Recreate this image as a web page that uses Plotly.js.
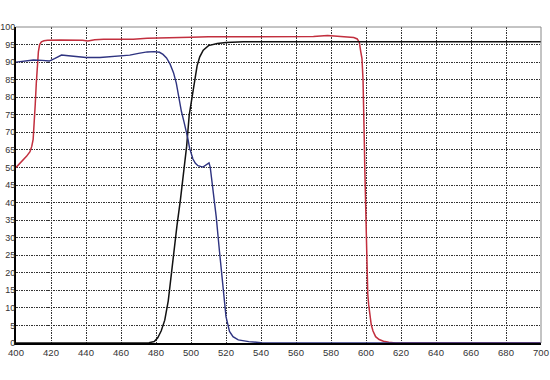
<!DOCTYPE html>
<html><head><meta charset="utf-8">
<script src="https://cdn.plot.ly/plotly-3.0.1.min.js"></script>
<style>html,body{margin:0;padding:0;background:#fff;}#chart{width:550px;height:380px;}</style>
</head><body><div id="chart"></div>
<script>
// X tick values (nm)
const xTicks = [400,420,440,460,480,500,520,540,560,580,600,620,640,660,680,700];
// Y tick labels as printed on the original axis (note: 55 and 60 are absent, grid is uniform)
const yTickLabels = [0,5,10,15,20,25,30,35,40,45,50,65,70,75,80,85,90,95,100];

// Red curve (transmittance %, read against the printed labels)
const redX = [400,402,404,406,408,409,409.8,410.4,411,411.6,412.2,412.8,413.5,414.5,416,418,425,432,438,441,445,450,460,467,475,480,490,500,510,520,530,540,550,560,570,578,585,590,593,595,596.2,597,597.7,598.3,598.7,598.9,599.1,599.3,599.6,600,600.6,601,601.5,602,603,604,605.5,607.5,610,613,617,700];
const redY = [50,53,56.3,59.5,63.5,66,68,72,78,84,89.5,93,95,95.8,96.1,96.2,96.3,96.3,96.2,96.0,96.4,96.5,96.5,96.5,96.8,96.9,97,97.1,97.2,97.2,97.1,97.2,97.1,97.1,97.3,97.6,97.4,97.2,97,96.6,95.6,93,91,85,78,72,66,50,41.7,32,22.7,14,11,8.5,5.2,3.4,1.8,1,0.5,0.2,0,0];

// Black curve
const blackX = [400,470,476,479,481,483,485,487,489,490,492,494,495.5,496.5,497.5,499,500.5,502,503.5,505,507,510,515,520,530,700];
const blackY = [0,0,0.1,0.4,1.5,3.5,6.5,12,21,26,33.5,41,47,54.5,66,75,80,85,89,91.5,93.4,94.7,95.3,95.6,95.8,95.8];

// Blue curve
const blueX = [400,405,410,415,419,422,426,430,435,440,448,455,460,465,470,475,479,482,484,486,488,490,491.6,493,494.5,496,497.3,498.3,499.2,500,501.1,502.5,504,506.8,508.5,509.5,510.3,511,511.6,512.5,514.4,516.3,518.2,520,522,524,527,533,540,545,700];
const blueY = [90,90.4,90.6,90.5,90.3,91,92,91.8,91.5,91.3,91.3,91.5,91.7,92,92.5,92.9,93,92.8,92.2,91.2,89.5,87,84,80,76,73,70.6,68,65.5,62,57.2,53.6,51.5,50.3,51.8,53.3,53.9,50,47.4,45,36,26,16,7.5,3.3,1.8,0.9,0.4,0.1,0,0];

// The original y axis is uniformly gridded but its labels jump 50 -> 65;
// place values on that axis by interpolating between printed labels.
function toAxis(v){
  for (let i = 0; i < yTickLabels.length - 1; i++){
    const a = yTickLabels[i], b = yTickLabels[i+1];
    if (v <= b) return (i + (v - a) / (b - a)) * 5;
  }
  return (yTickLabels.length - 1) * 5 + (v - yTickLabels[yTickLabels.length - 1]);
}
const yTickVals = yTickLabels.map((_, i) => i * 5);

const traces = [
  {x: redX, y: redY.map(toAxis), mode: 'lines', line: {color: '#c22f3e', width: 1.5}, hoverinfo: 'skip'},
  {x: blackX, y: blackY.map(toAxis), mode: 'lines', line: {color: '#111111', width: 1.5}, hoverinfo: 'skip'},
  {x: blueX, y: blueY.map(toAxis), mode: 'lines', line: {color: '#2e3380', width: 1.4}, hoverinfo: 'skip'}
];

const tickFont = {family: 'Liberation Sans, Arial, sans-serif', size: 9, color: '#333333'};

const layout = {
  width: 550, height: 380,
  margin: {l: 16, r: 9, t: 27, b: 37, pad: 0},
  paper_bgcolor: '#ffffff', plot_bgcolor: '#ffffff',
  showlegend: false,
  xaxis: {
    range: [400, 700], tickvals: xTicks, ticktext: xTicks.map(String),
    ticks: '', showgrid: true, gridcolor: '#333333', gridwidth: 1, griddash: '1.5px,1px',
    showline: true, linecolor: '#000000', linewidth: 2, zeroline: false,
    tickfont: {family: 'Liberation Sans, Arial, sans-serif', size: 9.5, color: '#333333'},
    layer: 'below traces', fixedrange: true
  },
  yaxis: {
    range: [0, (yTickLabels.length - 1) * 5], tickvals: yTickVals, ticktext: yTickLabels.map(String),
    ticks: '', showgrid: true, gridcolor: '#333333', gridwidth: 1, griddash: '1.5px,1px',
    showline: true, linecolor: '#000000', linewidth: 2, zeroline: false,
    tickfont: tickFont, layer: 'below traces', fixedrange: true, ticklabelstandoff: -3
  },
  shapes: [
    {type: 'line', xref: 'paper', yref: 'paper', x0: 0, x1: 1, y0: 1, y1: 1, line: {color: '#888888', width: 1}},
    {type: 'line', xref: 'paper', yref: 'paper', x0: 1, x1: 1, y0: 0, y1: 1, line: {color: '#888888', width: 1}}
  ]
};

Plotly.newPlot('chart', traces, layout, {staticPlot: true, displayModeBar: false});
</script>
</body></html>
